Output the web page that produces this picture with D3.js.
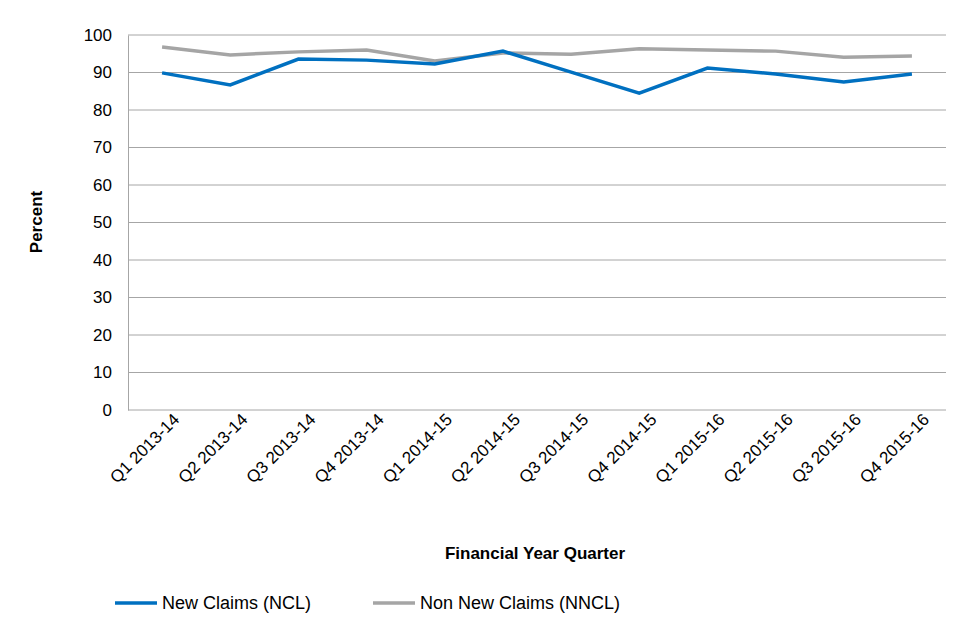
<!DOCTYPE html>
<html><head><meta charset="utf-8">
<script src="https://cdn.jsdelivr.net/npm/d3@7"></script>
<style>body{margin:0;background:#fff}text{font-family:Arial,"Liberation Sans",sans-serif}</style>
</head><body><svg id="chart" width="975" height="642"></svg>
<script>
var quarters = ["Q1 2013-14","Q2 2013-14","Q3 2013-14","Q4 2013-14","Q1 2014-15","Q2 2014-15","Q3 2014-15","Q4 2014-15","Q1 2015-16","Q2 2015-16","Q3 2015-16","Q4 2015-16"];
var ncl = [89.9,86.7,93.6,93.3,92.3,95.7,90.1,84.5,91.2,89.6,87.5,89.6];
var nncl = [96.8,94.7,95.5,96.0,93.1,95.2,94.9,96.3,96.0,95.7,94.1,94.4];
var yTicks = [0,10,20,30,40,50,60,70,80,90,100];

var svg = d3.select("#chart");
var plotLeft = 128, plotRight = 946, plotTop = 35, plotBottom = 410;
var x = d3.scalePoint().domain(quarters).range([plotLeft, plotRight]).padding(0.5);
var y = d3.scaleLinear().domain([0, 100]).range([plotBottom, plotTop]);

// gridlines
svg.append("g").selectAll("line").data(yTicks).enter().append("line")
    .attr("x1", plotLeft).attr("x2", plotRight)
    .attr("y1", d => y(d)).attr("y2", d => y(d))
    .attr("stroke", "#a6a6a6").attr("stroke-width", 1);

var ya = svg.append("g").attr("transform", "translate(" + plotLeft + ",0)")
    .call(d3.axisLeft(y).tickValues(yTicks).tickSize(0).tickPadding(16));
ya.select(".domain").attr("stroke", "#a6a6a6");
ya.selectAll("text").attr("font-size", 17).attr("fill", "#000");

var xa = svg.append("g").attr("transform", "translate(0," + plotBottom + ")")
    .call(d3.axisBottom(x).tickSize(0).tickPadding(10));
xa.select(".domain").remove();
xa.selectAll("text").attr("font-size", 17).attr("fill", "#000")
    .attr("text-anchor", "end").attr("dx", "0.3em").attr("dy", "0.6em")
    .attr("transform", "rotate(-45)");

var line = d3.line().x((d, i) => x(quarters[i])).y(d => y(d));
svg.append("path").datum(nncl).attr("d", line).attr("fill", "none")
    .attr("stroke", "#a5a5a5").attr("stroke-width", 3.5);
svg.append("path").datum(ncl).attr("d", line).attr("fill", "none")
    .attr("stroke", "#0070c0").attr("stroke-width", 3.5);

svg.append("text").attr("x", 535).attr("y", 559).attr("text-anchor", "middle")
    .attr("font-size", 17).attr("font-weight", "bold").text("Financial Year Quarter");
svg.append("text").attr("transform", "translate(42,222) rotate(-90)").attr("text-anchor", "middle")
    .attr("font-size", 17).attr("font-weight", "bold").text("Percent");

var legend = [["New Claims (NCL)", "#0070c0", 115], ["Non New Claims (NNCL)", "#a5a5a5", 373]];
legend.forEach(function (l) {
    svg.append("line").attr("x1", l[2]).attr("x2", l[2] + 42).attr("y1", 603).attr("y2", 603)
        .attr("stroke", l[1]).attr("stroke-width", 3.5);
    svg.append("text").attr("x", l[2] + 47).attr("y", 609).attr("font-size", 18).text(l[0]);
});
</script></body></html>
